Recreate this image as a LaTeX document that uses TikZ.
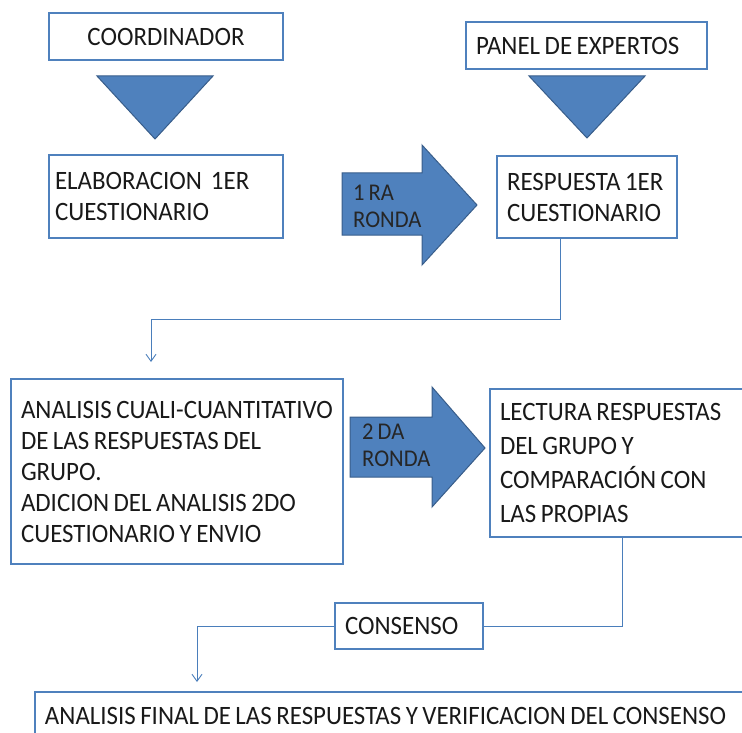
\documentclass[tikz,border=0pt]{standalone}
\usepackage{fontspec}
\setmainfont{Carlito}[FakeStretch=0.94, WordSpace=0.8]
\usetikzlibrary{arrows.meta}
\definecolor{boxblue}{HTML}{4F81BD}
\definecolor{darkblue}{HTML}{385D8A}
\definecolor{lineblue}{HTML}{4A7EBB}
\tikzstyle{box} = [rectangle, draw=boxblue, line width=2.5pt, fill=white, inner xsep=10pt, inner ysep=0pt, align=flush left, text=black!90, font=\fontsize{26.5}{31}\selectfont]
\tikzstyle{tri} = [fill=boxblue, draw=darkblue, line width=1pt, line join=miter]
\tikzstyle{bigarrow} = [fill=boxblue, draw=darkblue, line width=1pt, line join=miter]
\tikzstyle{ronda} = [anchor=west, inner sep=0pt, align=left, text=black!85, font=\fontsize{24}{27}\selectfont]
\tikzstyle{link} = [draw=lineblue, line width=0.9pt]
\tikzstyle{arrow} = [link, -{Straight Barb[length=7pt,width=10pt]}]

\begin{document}
\begin{tikzpicture}[x=1pt, y=-1pt]
	\useasboundingbox (0,0) rectangle (742,733);

	\node (coord) [box, minimum width=234, minimum height=47, align=center] at (166,36.5) {COORDINADOR};
	\node (elab) [box, inner xsep=6pt, text width=222, minimum height=83] at (166,196.5) {ELABORACION\ \ 1ER\\CUESTIONARIO};
	\node (panel) [box, text width=221, minimum height=47] at (586.5,45.5) {PANEL DE EXPERTOS};
	\node (resp) [box, text width=160, minimum height=82] at (587,197) {RESPUESTA 1ER\\CUESTIONARIO};
	\node (anal) [box, text width=312, minimum height=185] at (177,471.5) {ANALISIS CUALI-CUANTITATIVO\\DE LAS RESPUESTAS DEL\\GRUPO.\\ADICION DEL ANALISIS 2DO\\CUESTIONARIO Y ENVIO};
	\node (lect) [box, text width=244, minimum height=148, font=\fontsize{26.5}{34}\selectfont] at (622,463) {LECTURA RESPUESTAS\\DEL GRUPO Y\\COMPARACIÓN CON\\LAS PROPIAS};
	\node (cons) [box, text width=128, minimum height=46] at (409,626) {CONSENSO};
	\node (final) [box, text width=700, minimum height=48] at (395,716) {ANALISIS FINAL DE LAS RESPUESTAS Y VERIFICACION DEL CONSENSO};

	\draw [tri] (97,76) -- (213,76) -- (155,139) -- cycle;
	\draw [tri] (529,76) -- (645,76) -- (587,138) -- cycle;

	\draw [bigarrow] (342,173) -- (422,173) -- (422,145) -- (477,205) -- (422,265) -- (422,235) -- (342,235) -- cycle;
	\draw [bigarrow] (350,417) -- (432,417) -- (432,387) -- (485,448) -- (432,507) -- (432,477) -- (350,477) -- cycle;
	\node (ronda1) [ronda] at (353,206.5) {1 RA\\RONDA};
	\node (ronda2) [ronda] at (362,445) {2 DA\\RONDA};

	\coordinate (analIn) at (151,362);
	\coordinate (finIn) at (197,682);
	\draw [arrow] ([xshift=-27pt]resp.south) -- ++(0,80) -| (analIn);
	\draw [link] (lect.south) |- (cons.east);
	\draw [arrow] (cons.west) -| (finIn);
\end{tikzpicture}
\end{document}
